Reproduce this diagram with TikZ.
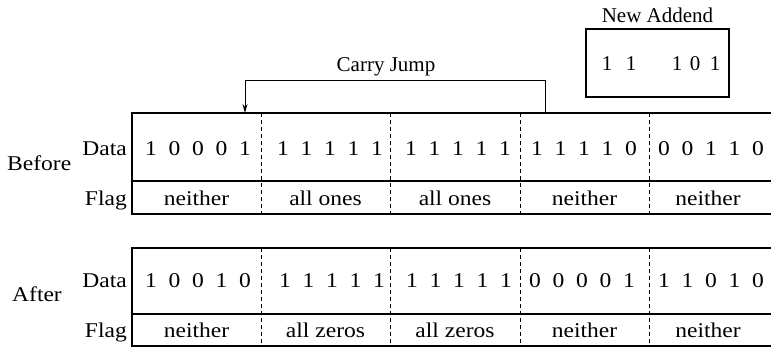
\documentclass[tikz,border=0pt]{standalone}
\usepackage{fontspec}
\setmainfont{Liberation Serif}
\newfontfamily\tabfont[FakeStretch=1.12]{Liberation Serif}
\usetikzlibrary{arrows.meta}
\newcommand{\dg}[1]{\makebox[23.5pt]{#1}}
\begin{document}
\begin{tikzpicture}[x=1pt,y=-1pt,
  lbl/.style={font=\fontsize{21pt}{25pt}\selectfont, inner sep=0pt, anchor=base},
  tab/.style={font=\tabfont\fontsize{21pt}{25pt}\selectfont, inner sep=0pt, anchor=base},
  rlbl/.style={tab, anchor=base east},
  frame/.style={line width=1.3pt},
  divider/.style={line width=0.8pt, dash pattern=on 4pt off 3pt},
  jump/.style={line width=1pt, -{Stealth[length=9pt,width=5pt]}}]
\useasboundingbox (0,0) rectangle (771,349);

% ---------- Before table ----------
\coordinate (btl) at (132,113);
\coordinate (btr) at (771,113);
\coordinate (bml) at (132,181);
\coordinate (bmr) at (771,181);
\coordinate (bbl) at (132,214);
\coordinate (bbr) at (771,214);
\draw[frame] (btr) -- (btl) -- (bbl) -- (bbr);
\draw[frame] (bml) -- (bmr);
\foreach \x in {261,390,520,649} \draw[divider] (\x,113) -- (\x,214);

\node[tab] (bd1) at (198,155) {\dg1\dg0\dg0\dg0\dg1};
\node[tab] (bd2) at (330,155) {\dg1\dg1\dg1\dg1\dg1};
\node[tab] (bd3) at (458,155) {\dg1\dg1\dg1\dg1\dg1};
\node[tab] (bd4) at (584,155) {\dg1\dg1\dg1\dg1\dg0};
\node[tab] (bd5) at (711,155) {\dg0\dg0\dg1\dg1\dg0};

\node[tab] (bf1) at (196.5,205) {neither};
\node[tab] (bf2) at (325.5,205) {all ones};
\node[tab] (bf3) at (455,205) {all ones};
\node[tab] (bf4) at (584.5,205) {neither};
\node[tab] (bf5) at (708,205) {neither};

\node[rlbl] (bdata) at (127,155) {Data};
\node[rlbl] (bflag) at (127,205) {Flag};
\node[tab, anchor=base west] (before) at (7,170) {Before};

% ---------- After table ----------
\coordinate (atl) at (132,248);
\coordinate (atr) at (771,248);
\coordinate (aml) at (132,314);
\coordinate (amr) at (771,314);
\coordinate (abl) at (132,346);
\coordinate (abr) at (771,346);
\draw[frame] (atr) -- (atl) -- (abl) -- (abr);
\draw[frame] (aml) -- (amr);
\foreach \x in {261,390,520,649} \draw[divider] (\x,248) -- (\x,346);

\node[tab] (ad1) at (198,287) {\dg1\dg0\dg0\dg1\dg0};
\node[tab] (ad2) at (332,287) {\dg1\dg1\dg1\dg1\dg1};
\node[tab] (ad3) at (459,287) {\dg1\dg1\dg1\dg1\dg1};
\node[tab] (ad4) at (582,287) {\dg0\dg0\dg0\dg0\dg1};
\node[tab] (ad5) at (711,287) {\dg1\dg1\dg0\dg1\dg0};

\node[tab] (af1) at (196.5,337) {neither};
\node[tab] (af2) at (325.5,337) {all zeros};
\node[tab] (af3) at (455,337) {all zeros};
\node[tab] (af4) at (584.5,337) {neither};
\node[tab] (af5) at (708,337) {neither};

\node[rlbl] (adata) at (127,287) {Data};
\node[rlbl] (aflag) at (127,337) {Flag};
\node[tab, anchor=base west] (after) at (12,301) {After};

% ---------- Carry jump ----------
\coordinate (jsrc) at (545,113);
\coordinate (jdst) at (245,113);
\coordinate (jtop) at (545,80);
\draw[jump] (jsrc) -- (jtop) -| (jdst);
\node[lbl] (carry) at (386,71) {Carry Jump};

% ---------- New addend ----------
\node[draw, frame, minimum width=143pt, minimum height=68pt, inner sep=0pt] (addbox) at (657.5,63) {};
\node[lbl] (addlbl) at (addbox.north |- 0,22) {New Addend};
\node[lbl] (n1) at (607,70) {1};
\node[lbl] (n2) at (631,70) {1};
\node[lbl] (n3) at (677,70) {1};
\node[lbl] (n4) at (695,70) {0};
\node[lbl] (n5) at (715,70) {1};
\end{tikzpicture}
\end{document}
